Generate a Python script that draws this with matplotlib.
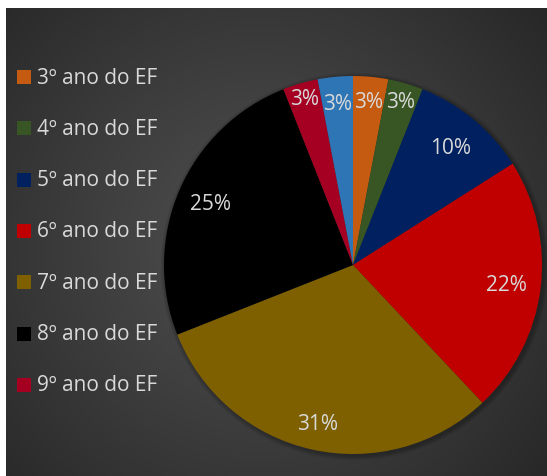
import numpy as np
import matplotlib
matplotlib.use('Agg')
import matplotlib.pyplot as plt
from matplotlib.patches import Rectangle, Circle

# dados do gráfico
categorias = ['3º ano do EF', '4º ano do EF', '5º ano do EF', '6º ano do EF',
              '7º ano do EF', '8º ano do EF', '9º ano do EF', 'Outros']
percentuais = [3, 3, 10, 22, 31, 25, 3, 3]
cores = ['#C55A11', '#375623', '#002060', '#C00000',
         '#7F6000', '#000000', '#A50021', '#2E75B6']
n_legenda = 7  # a última fatia não aparece na legenda

# distância dos rótulos ao centro (fração do raio)
dist_rotulos = [0.87, 0.90, 0.81, 0.82, 0.86, 0.82, 0.92, 0.86]

plt.rcParams['font.family'] = ['Open Sans', 'DejaVu Sans']
cor_texto = '#D9D9D9'

W, H = 547, 477
fig = plt.figure(figsize=(W / 100, H / 100), dpi=100)
fig.patch.set_facecolor('white')

# fundo com gradiente radial
px0, py0 = 6, 9
bw, bh = W - px0, H - py0
bg = fig.add_axes([px0 / W, 0, bw / W, bh / H])
xx, yy = np.meshgrid(np.arange(bw), np.arange(bh))
d = np.hypot(xx - 255, yy - 235) / 390.0
g = 0.31 - (0.31 - 0.145) * np.clip(d, 0, 1) ** 1.1
bg.imshow(np.dstack([g, g, g]), aspect='auto', interpolation='bilinear')
bg.set_axis_off()

# pizza
cx, cy, R = 353, 266, 189
ax = fig.add_axes([(cx - R) / W, (H - cy - R) / H, 2 * R / W, 2 * R / H])
ax.set_facecolor('none')

# sombra discreta em volta da pizza
for k in range(1, 6):
    ax.add_patch(Circle((0.008, -0.008), 1 + k * 0.005, color='black',
                        alpha=0.05, lw=0, zorder=0, clip_on=False))

wedges, _ = ax.pie(percentuais, colors=cores, startangle=90,
                   counterclock=False, radius=1,
                   wedgeprops=dict(linewidth=0))
for w in wedges:
    w.set_zorder(2)

for w, p, r in zip(wedges, percentuais, dist_rotulos):
    ang = np.deg2rad((w.theta1 + w.theta2) / 2)
    ax.text(r * np.cos(ang), r * np.sin(ang), f'{p}%', ha='center',
            va='center', fontsize=15, color=cor_texto, zorder=3)

ax.set_xlim(-1, 1)
ax.set_ylim(-1, 1)
ax.set_aspect('equal')
ax.set_axis_off()

# legenda
y_top, passo = 78, 51.3
for i in range(n_legenda):
    yc = y_top + i * passo
    fig.patches.append(Rectangle((17 / W, (H - yc - 7) / H), 14 / W, 14 / H,
                                 transform=fig.transFigure, color=cores[i],
                                 lw=0, figure=fig))
    fig.text(37 / W, (H - yc) / H, categorias[i], ha='left', va='center',
             fontsize=15, color=cor_texto)

fig.savefig('out.png', dpi=100)
